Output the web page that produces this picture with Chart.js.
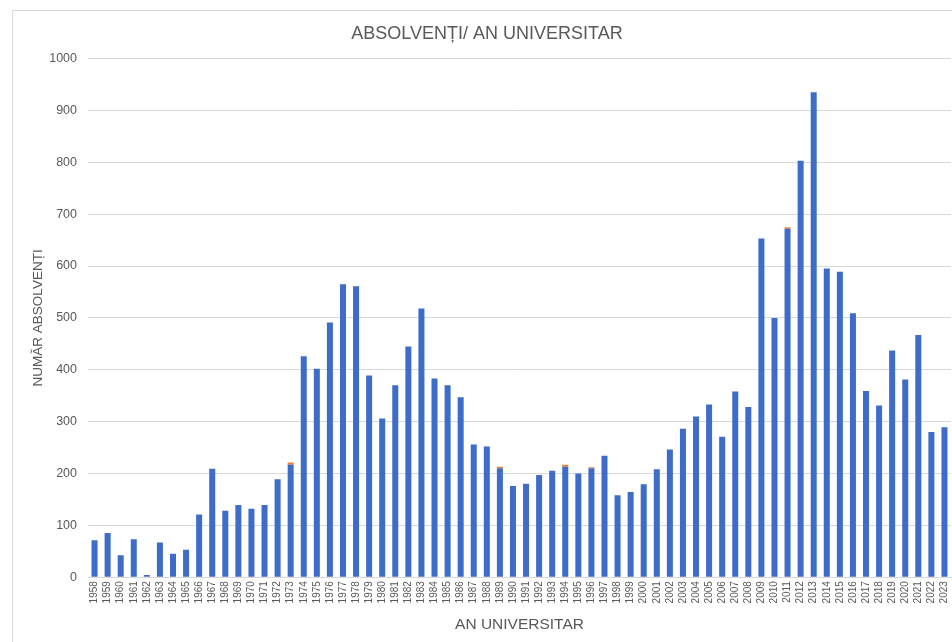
<!DOCTYPE html>
<html>
<head>
<meta charset="utf-8">
<script src="https://cdn.jsdelivr.net/npm/chart.js@4.4.0/dist/chart.umd.min.js"></script>
<style>
  html, body { margin: 0; padding: 0; background: #fff; }
  #wrap { position: relative; width: 952px; height: 642px; overflow: hidden; background: #fff; }
  #frame { position: absolute; left: 12px; top: 10px; width: 1000px; height: 700px; border: 1px solid #d9d9d9; box-sizing: border-box; }
  #holder { position: absolute; left: 0; top: 0; width: 975px; height: 642px; }
</style>
</head>
<body>
<div id="wrap">
  <div id="frame"></div>
  <div id="holder"><canvas id="c" width="975" height="642"></canvas></div>
</div>
<script>
const years = ["1958","1959","1960","1961","1962","1963","1964","1965","1966","1967","1968","1969","1970","1971","1972","1973","1974","1975","1976","1977","1978","1979","1980","1981","1982","1983","1984","1985","1986","1987","1988","1989","1990","1991","1992","1993","1994","1995","1996","1997","1998","1999","2000","2001","2002","2003","2004","2005","2006","2007","2008","2009","2010","2011","2012","2013","2014","2015","2016","2017","2018","2019","2020","2021","2022","2023"];

const graduates = [71,85,42,73,4,67,45,53,121,209,128,139,132,139,189,217,426,402,491,565,561,389,306,370,445,518,383,370,347,256,252,210,176,180,197,205,213,200,210,234,158,164,179,208,246,286,310,333,271,358,328,653,500,672,803,935,595,589,509,359,331,437,381,467,280,289];

const otherGraduates = [0,0,0,0,0,0,0,0,0,0,0,0,0,0,0,4,0,0,0,0,0,0,0,0,0,0,0,0,0,0,0,3,0,0,0,0,4,0,2,0,0,0,0,0,0,0,0,0,0,0,0,0,0,3,0,0,0,0,0,0,0,0,0,0,0,0];

const yTicks = [0,100,200,300,400,500,600,700,800,900,1000];

const textColor = "#595959";
const fontFamily = "'Liberation Sans', Arial, sans-serif";

new Chart(document.getElementById("c"), {
  type: "bar",
  data: {
    labels: years,
    datasets: [
      { label: "Absolvenți", data: graduates, backgroundColor: "#3d6cc9", barPercentage: 0.46, categoryPercentage: 1.0 },
      { label: "Alții", data: otherGraduates, backgroundColor: "#ed7d31", barPercentage: 0.46, categoryPercentage: 1.0 }
    ]
  },
  options: {
    responsive: false,
    animation: false,
    layout: { padding: { left: 23, right: 24, top: 23, bottom: 8 } },
    plugins: {
      legend: { display: false },
      tooltip: { enabled: false },
      title: {
        display: true,
        text: "ABSOLVENȚI/ AN UNIVERSITAR",
        color: textColor,
        font: { family: fontFamily, size: 18, weight: "normal" },
        padding: { top: 0, bottom: 14 }
      }
    },
    scales: {
      x: {
        stacked: true,
        grid: { display: false, drawTicks: false },
        border: { display: true, color: "#d9d9d9" },
        ticks: {
          color: textColor,
          font: { family: fontFamily, size: 10 },
          minRotation: 90, maxRotation: 90,
          autoSkip: false,
          padding: 4
        },
        title: {
          display: true,
          text: "AN UNIVERSITAR",
          color: textColor,
          font: { family: fontFamily, size: 15.5 },
          padding: { top: 8, bottom: 0 }
        }
      },
      y: {
        stacked: true,
        min: 0, max: 1000,
        afterBuildTicks: (scale) => { scale.ticks = yTicks.map(v => ({ value: v })); },
        grid: { color: "#d9d9d9", drawTicks: false },
        border: { display: false },
        ticks: {
          color: textColor,
          font: { family: fontFamily, size: 12.5 },
          padding: 11,
          callback: (v) => String(v)
        },
        title: {
          display: true,
          text: "NUMĂR ABSOLVENȚI",
          color: textColor,
          font: { family: fontFamily, size: 13.5 },
          padding: { top: 7, bottom: 0 }
        },
        afterFit: (scale) => { scale.width = 65; }
      }
    }
  }
});
</script>
</body>
</html>
